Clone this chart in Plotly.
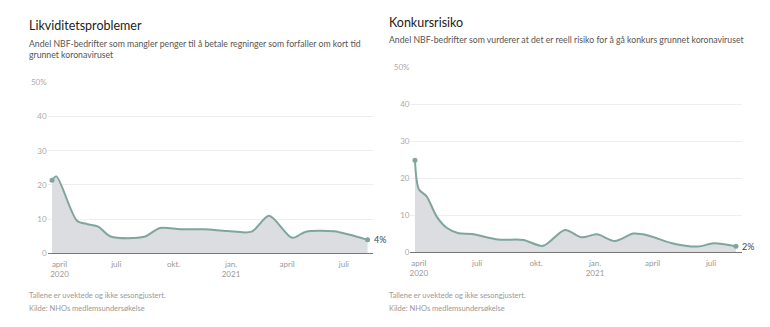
import plotly.graph_objects as go

W, H = 770, 327

# ---- Data ----
liq_dates = ["2020-03-20", "2020-03-27", "2020-04-29", "2020-05-16", "2020-06-02", "2020-06-22",
             "2020-08-15", "2020-09-09", "2020-10-12", "2020-11-19", "2020-12-26", "2021-02-03",
             "2021-03-03", "2021-04-09", "2021-05-01", "2021-06-15", "2021-08-08"]
liq_values = [21.4, 22.5, 9.5, 8.5, 7.8, 4.9, 4.8, 7.4, 7.0, 7.0, 6.5, 6.3, 11.0, 4.5, 6.3, 6.4, 3.9]

kon_dates = ["2020-03-26", "2020-04-01", "2020-04-13", "2020-04-29", "2020-05-15", "2020-06-02",
             "2020-06-23", "2020-08-03", "2020-09-11", "2020-10-12", "2020-11-15", "2020-12-11",
             "2021-01-04", "2021-02-01", "2021-03-02", "2021-03-25", "2021-05-01", "2021-06-11",
             "2021-07-05", "2021-08-09"]
kon_values = [24.9, 17.1, 15.2, 9.7, 6.6, 5.2, 5.0, 3.5, 3.4, 1.8, 6.1, 4.1, 4.9, 3.1, 5.1, 4.6,
              2.5, 1.6, 2.5, 1.7]

tick_vals = ["2020-04-01", "2020-07-01", "2020-10-01", "2021-01-01", "2021-04-01", "2021-07-01"]
tick_text = ["april<br>2020", "juli", "okt.", "jan.<br>2021", "april", "juli"]
y_ticks = [0, 10, 20, 30, 40, 50]
y_text = ["0", "10", "20", "30", "40", "50%"]

titles = ["Likviditetsproblemer", "Konkursrisiko"]
subtitles = ["Andel NBF-bedrifter som mangler penger til å betale regninger som forfaller om kort tid<br>grunnet koronaviruset",
             "Andel NBF-bedrifter som vurderer at det er reell risiko for å gå konkurs grunnet koronaviruset"]
notes = ["Tallene er uvektede og ikke sesongjustert.", "Kilde: NHOs medlemsundersøkelse"]
end_labels = ["4%", "2%"]

FONT = "Lato"
LINE = "#7fa59c"
FILL = "#dcdde0"

def py(px):
    return 1 - px / H

fig = go.Figure()

series = [(liq_dates, liq_values, "x", "y"), (kon_dates, kon_values, "x2", "y2")]
for i, (d, v, xa, ya) in enumerate(series):
    fig.add_trace(go.Scatter(x=d, y=v, mode="lines", xaxis=xa, yaxis=ya,
                             line=dict(color=LINE, width=2, shape="spline", smoothing=0.8),
                             fill="tozeroy", fillcolor=FILL, hoverinfo="skip", showlegend=False))
    fig.add_trace(go.Scatter(x=[d[0], d[-1]], y=[v[0], v[-1]], mode="markers", xaxis=xa, yaxis=ya,
                             marker=dict(color=LINE, size=5), hoverinfo="skip", showlegend=False))
    fig.add_annotation(x=d[-1], y=v[-1], xref=xa, yref=ya, text=end_labels[i], showarrow=False,
                       xanchor="left", yanchor="middle", xshift=4,
                       font=dict(family=FONT, size=9, color="#444"))

xcommon = dict(type="date", tickvals=tick_vals, ticktext=tick_text, showgrid=False,
               showline=True, linecolor="#777", linewidth=1, ticks="", zeroline=False,
               ticklabelstandoff=3,
               tickfont=dict(family=FONT, size=8, color="#999"), fixedrange=True)
ycommon = dict(range=[0, 50], tickvals=y_ticks, ticktext=y_text, showgrid=True,
               gridcolor="#eeeeee", gridwidth=1, zeroline=False, showline=False, ticks="",
               tickfont=dict(family=FONT, size=8, color="#aaa"), fixedrange=True)

fig.update_layout(
    width=W, height=H, margin=dict(l=0, r=0, t=0, b=0),
    paper_bgcolor="white", plot_bgcolor="white",
    xaxis=dict(xcommon, domain=[46.7 / W, 372.7 / W], range=["2020-03-13", "2021-08-17"], anchor="y"),
    yaxis=dict(ycommon, domain=[py(256), py(80)], anchor="x"),
    xaxis2=dict(xcommon, domain=[410 / W, 741.7 / W], range=["2020-03-19", "2021-08-18"], anchor="y2"),
    yaxis2=dict(ycommon, domain=[py(255.3), py(64.3)], anchor="x2"),
)

# Titles and texts
fig.add_annotation(x=26 / W, y=py(21), xref="paper", yref="paper", text=titles[0], showarrow=False,
                   xanchor="left", yanchor="middle", font=dict(family=FONT, size=12.5, color="#222"))
fig.add_annotation(x=387 / W, y=py(18), xref="paper", yref="paper", text=titles[1], showarrow=False,
                   xanchor="left", yanchor="middle", font=dict(family=FONT, size=12.5, color="#222"))
fig.add_annotation(x=26 / W, y=py(45), xref="paper", yref="paper", text=subtitles[0], showarrow=False,
                   xanchor="left", yanchor="middle", align="left", font=dict(family=FONT, size=8.7, color="#555"))
fig.add_annotation(x=387 / W, y=py(35.5), xref="paper", yref="paper", text=subtitles[1], showarrow=False,
                   xanchor="left", yanchor="middle", align="left", font=dict(family=FONT, size=8.7, color="#555"))
for x0 in (26, 387):
    fig.add_annotation(x=x0 / W, y=py(300), xref="paper", yref="paper", text=notes[0], showarrow=False,
                       xanchor="left", yanchor="middle", font=dict(family=FONT, size=7.5, color="#999"))
    fig.add_annotation(x=x0 / W, y=py(313), xref="paper", yref="paper", text=notes[1], showarrow=False,
                       xanchor="left", yanchor="middle", font=dict(family=FONT, size=7.5, color="#999"))

fig.write_html("out.html", config={"displayModeBar": False})
